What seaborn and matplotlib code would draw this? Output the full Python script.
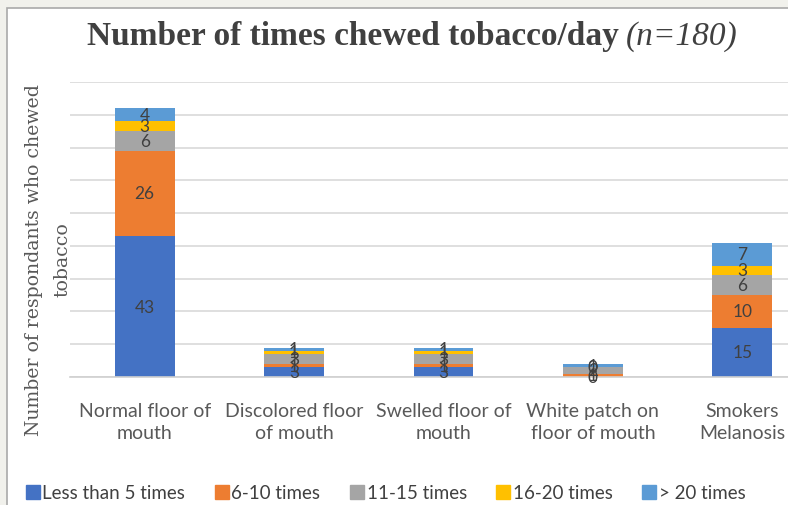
import numpy as np
import pandas as pd
import matplotlib
matplotlib.use("Agg")
import matplotlib.pyplot as plt
from matplotlib.patches import Rectangle
from matplotlib.lines import Line2D
import seaborn as sns

# Findings on the floor of the mouth, by how often tobacco was chewed per day
categories = ["Normal floor of\nmouth", "Discolored floor\nof mouth", "Swelled floor of\nmouth",
              "White patch on\nfloor of mouth", "Smokers\nMelanosis"]
series_names = ["Less than 5 times", "6-10 times", "11-15 times", "16-20 times", "> 20 times"]
less_than_5 = [43, 3, 3, 0, 15]
times_6_10 = [26, 1, 1, 1, 10]
times_11_15 = [6, 3, 3, 2, 6]
times_16_20 = [3, 1, 1, 0, 3]
more_than_20 = [4, 1, 1, 1, 7]
colors = ["#4472C4", "#ED7D31", "#A5A5A5", "#FFC000", "#5B9BD5"]

series = [less_than_5, times_6_10, times_11_15, times_16_20, more_than_20]

sns.set_theme(style="white")
plt.rcParams["font.family"] = ["Lato", "DejaVu Sans"]

W, H = 788, 506
fig = plt.figure(figsize=(W / 100, H / 100), dpi=100, facecolor="#f1f1ec")

# white chart panel with a thin frame
fig.patches.append(Rectangle((7 / W, -0.1), 1.2, 1 - 9 / H + 0.1, transform=fig.transFigure,
                             facecolor="white", edgecolor="#a9a9a9", linewidth=1.2, zorder=-5))

ax = fig.add_axes([70 / W, 128 / H, 747 / W, 295 / H])
ax.set_facecolor("none")
ax.set_zorder(2)

df = pd.DataFrame({"category": categories})
cum = np.zeros(len(categories))
cums = []
for vals in series:
    cum = cum + np.array(vals, dtype=float)
    cums.append(cum.copy())

# stacked bars: draw cumulative totals from the top series down
for i in range(len(series) - 1, -1, -1):
    d = df.copy()
    d["value"] = cums[i]
    sns.barplot(data=d, x="category", y="value", color=colors[i], width=0.4,
                saturation=1, ax=ax, zorder=2, linewidth=0, errorbar=None)

# value labels centred in each segment
for i, vals in enumerate(series):
    for j, v in enumerate(vals):
        ax.text(j, cums[i][j] - v / 2, str(v), ha="center", va="center",
                fontsize=12.5, color="#404040", zorder=5)

ax.set_xlim(-0.5, 4.5)
ax.set_ylim(0, 90)
ax.set_yticks(np.arange(0, 91, 10))
ax.yaxis.grid(True, color="#d9d9d9", linewidth=1.2, zorder=0)
ax.set_axisbelow(True)
ax.tick_params(axis="y", left=False, labelleft=False)
ax.tick_params(axis="x", bottom=False, labelsize=14, labelcolor="#595959", pad=12)
for lbl in ax.get_xticklabels():
    lbl.set_linespacing(1.33)
for s in ["top", "right", "left"]:
    ax.spines[s].set_visible(False)
ax.spines["bottom"].set_color("#d0d0d0")
ax.spines["bottom"].set_linewidth(1.2)
ax.set_xlabel("")
ax.set_ylabel("")

fig.text(48 / W, 1 - 260 / H, "Number of respondants who chewed\ntobacco", rotation=90,
         ha="center", va="center", fontsize=13.6, color="#595959",
         family=["DejaVu Serif"], linespacing=1.75)

# title: bold part plus italic sample size
fig.text(619 / W, 1 - 37 / H, "Number of times chewed tobacco/day", ha="right", va="center",
         fontsize=24, fontweight="bold", color="#404040", family=["Liberation Serif"])
fig.text(626 / W, 1 - 37 / H, "(n=180)", ha="left", va="center",
         fontsize=24, fontstyle="italic", color="#404040", family=["Liberation Serif"])

handles = [Line2D([], [], marker="s", linestyle="none", markersize=9.5, color=c) for c in colors]
fig.legend(handles, series_names, loc="center", bbox_to_anchor=(386 / W, 12 / H), ncol=5,
           frameon=False, handlelength=0.7, handletextpad=0.16, columnspacing=1.6,
           prop={"family": ["Lato"], "size": 13.5}, labelcolor="#404040")

fig.savefig("out.png", dpi=100, facecolor=fig.get_facecolor())
